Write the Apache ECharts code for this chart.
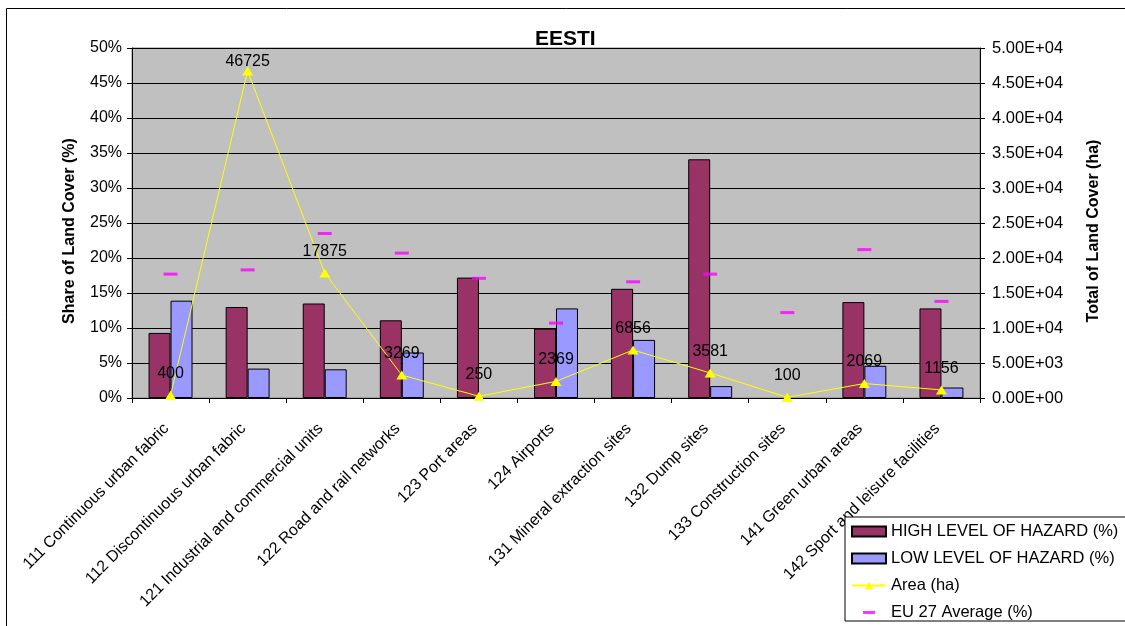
<!DOCTYPE html>
<html>
<head>
<meta charset="utf-8">
<title>EESTI</title>
<script src="https://cdn.jsdelivr.net/npm/echarts@6/dist/echarts.min.js"></script>
<style>
  html, body { margin: 0; padding: 0; background: #fff; }
  #chart { width: 1125px; height: 626px; }
</style>
</head>
<body>
<div id="chart"></div>
<script>
// Land cover classes
const categories = [
  '111 Continuous urban fabric',
  '112 Discontinuous urban fabric',
  '121 Industrial and commercial units',
  '122 Road and rail networks',
  '123 Port areas',
  '124 Airports',
  '131 Mineral extraction sites',
  '132 Dump sites',
  '133 Construction sites',
  '141 Green urban areas',
  '142 Sport and leisure facilities'
];

// Share of land cover (%) by hazard level
const highHazard = [9.3, 13.0, 13.5, 11.1, 17.2, 9.9, 15.6, 34.1, null, 13.7, 12.8];
const lowHazard  = [13.9, 4.2, 4.1, 6.5, null, 12.8, 8.3, 1.7, null, 4.6, 1.5];

// Total area per class (ha)
const areaHa = [400, 46725, 17875, 3269, 250, 2369, 6856, 3581, 100, 2069, 1156];

// EU 27 average share (%)
const euAverage = [17.7, 18.3, 23.5, 20.7, 17.1, 10.7, 16.6, 17.7, 12.2, 21.2, 13.8];

// Axis ranges and tick steps
const leftAxisMax = 50, leftAxisStep = 5;
const rightAxisMax = 50000, rightAxisStep = 5000;

const FONT = '"Liberation Sans", Arial, sans-serif';

// Scientific notation in the 5.00E+04 style
function sci(v) {
  if (v === 0) return '0.00E+00';
  const e = Math.floor(Math.log10(Math.abs(v)) + 1e-9);
  const m = v / Math.pow(10, e);
  return m.toFixed(2) + 'E' + (e < 0 ? '-' : '+') + String(Math.abs(e)).padStart(2, '0');
}

// The peak label sits closer to its point so it stays inside the plot
const areaMax = Math.max(...areaHa);
const areaData = areaHa.map(v => v === areaMax ? { value: v, label: { offset: [0, 12] } } : v);

const chart = echarts.init(document.getElementById('chart'), null, { renderer: 'canvas' });

chart.setOption({
  animation: false,
  backgroundColor: '#ffffff',
  textStyle: { fontFamily: FONT, color: '#000' },
  title: {
    text: 'EESTI',
    left: 530,
    top: 24,
    textStyle: { fontFamily: FONT, fontSize: 21, fontWeight: 'bold', color: '#000' }
  },
  graphic: [{
    type: 'rect',
    left: 4, top: 6,
    shape: { width: 1130, height: 619 },
    style: { fill: 'none', stroke: '#000', lineWidth: 1 },
    silent: true,
    z: -1
  }],
  legend: {
    orient: 'vertical',
    left: 845,
    top: 517,
    z: 20,
    padding: [6, 30, 0, 6],
    itemGap: 10,
    itemWidth: 34,
    itemHeight: 10,
    backgroundColor: '#fff',
    borderColor: '#000',
    borderWidth: 1,
    textStyle: { fontFamily: FONT, fontSize: 16.5, color: '#000' },
    data: [
      { name: 'HIGH LEVEL OF HAZARD (%)', icon: 'rect' },
      { name: 'LOW LEVEL OF HAZARD (%)', icon: 'rect' },
      { name: 'Area (ha)' },
      { name: 'EU 27 Average (%)', icon: 'path://M0,0M34,10M11,3.5h12v3h-12z' }
    ]
  },
  grid: {
    left: 132,
    right: 145,
    top: 48,
    bottom: 228,
    show: true,
    backgroundColor: '#C0C0C0',
    borderColor: '#808080',
    borderWidth: 1
  },
  xAxis: {
    type: 'category',
    data: categories,
    boundaryGap: true,
    z: 1,
    axisLine: { lineStyle: { color: '#000', width: 1 } },
    axisTick: { show: true, length: 5, lineStyle: { color: '#000' } },
    axisLabel: {
      interval: 0,
      rotate: 45,
      margin: 24,
      padding: [0, 6, 0, 0],
      fontFamily: FONT,
      fontSize: 16,
      color: '#000'
    }
  },
  yAxis: [{
    type: 'value',
    min: 0,
    max: leftAxisMax,
    interval: leftAxisStep,
    position: 'left',
    name: 'Share of Land Cover (%)',
    nameLocation: 'middle',
    nameRotate: 90,
    nameGap: 54,
    nameTextStyle: { fontFamily: FONT, fontSize: 16, fontWeight: 'bold', color: '#000', padding: [0, 16, 0, 0] },
    axisLine: { show: true, lineStyle: { color: '#000' } },
    axisTick: { show: true, length: 5, lineStyle: { color: '#000' } },
    axisLabel: { formatter: '{value}%', fontFamily: FONT, fontSize: 16, color: '#000', margin: 10 },
    splitLine: { show: true, lineStyle: { color: '#000', width: 1 } }
  }, {
    type: 'value',
    min: 0,
    max: rightAxisMax,
    interval: rightAxisStep,
    position: 'right',
    name: 'Total of Land Cover (ha)',
    nameLocation: 'middle',
    nameRotate: 90,
    nameGap: 106,
    nameTextStyle: { fontFamily: FONT, fontSize: 16, fontWeight: 'bold', color: '#000', padding: [0, 16, 0, 0] },
    axisLine: { show: true, lineStyle: { color: '#000' } },
    axisTick: { show: true, length: 5, lineStyle: { color: '#000' } },
    axisLabel: { formatter: sci, fontFamily: FONT, fontSize: 16.5, color: '#000', margin: 12 },
    splitLine: { show: false }
  }],
  series: [{
    name: 'HIGH LEVEL OF HAZARD (%)',
    type: 'bar',
    data: highHazard,
    barGap: '0%',
    barCategoryGap: '43%',
    itemStyle: { color: '#993366', borderColor: '#000', borderWidth: 1 },
    z: 2
  }, {
    name: 'LOW LEVEL OF HAZARD (%)',
    type: 'bar',
    data: lowHazard,
    barGap: '0%',
    barCategoryGap: '43%',
    itemStyle: { color: '#9999FF', borderColor: '#000', borderWidth: 1 },
    z: 2
  }, {
    name: 'Area (ha)',
    type: 'line',
    yAxisIndex: 1,
    data: areaData,
    symbol: 'triangle',
    symbolSize: [11, 9],
    showAllSymbol: true,
    lineStyle: { color: '#FFFF00', width: 1 },
    itemStyle: { color: '#FFFF00' },
    label: {
      show: true,
      position: 'top',
      distance: 9,
      fontFamily: FONT,
      fontSize: 16,
      color: '#000'
    },
    z: 4
  }, {
    name: 'EU 27 Average (%)',
    type: 'scatter',
    data: euAverage,
    symbol: 'rect',
    symbolSize: [14, 3],
    itemStyle: { color: '#FF00FF' },
    z: 3
  }]
});
</script>
</body>
</html>
